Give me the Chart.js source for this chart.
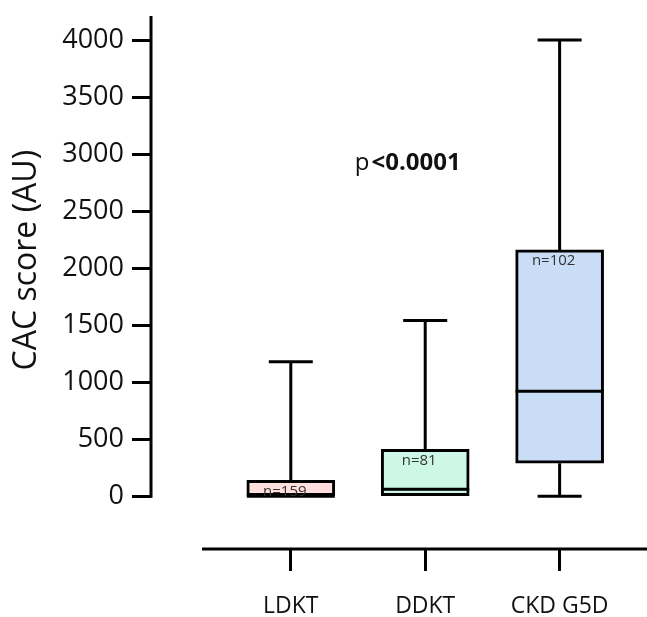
<!DOCTYPE html>
<html>
<head>
<meta charset="utf-8">
<script src="https://cdn.jsdelivr.net/npm/chart.js@4/dist/chart.umd.min.js"></script>
<style>
  body { margin: 0; background: #fff; }
  #chart { display: block; }
</style>
</head>
<body>
<canvas id="chart" width="647" height="617"></canvas>
<script>
// box plot values
const groups = ['LDKT', 'DDKT', 'CKD G5D'];
const mins = [0, 0, 0];
const q1s = [0, 0, 290];
const medians = [0, 60, 920];
const q3s = [140, 410, 2160];
const maxs = [1180, 1540, 4000];
const counts = [159, 81, 102];
const boxColors = ['#ffdede', '#cdf7e6', '#c9ddf7'];
const yTicks = [0, 500, 1000, 1500, 2000, 2500, 3000, 3500, 4000];
const xPositions = [1, 2, 3];

const font = "'Open Sans', 'Noto Sans', sans-serif";

// whiskers, medians, n labels, offset axis lines
const boxPlugin = {
    id: 'boxExtras',
    afterDatasetsDraw(chart) {
        const ctx = chart.ctx;
        const x = chart.scales.x;
        const y = chart.scales.y;
        const area = chart.chartArea;
        const half = 22;
        const boxHalf = 44;

        ctx.save();
        ctx.strokeStyle = '#000';
        ctx.lineWidth = 3;
        ctx.lineCap = 'butt';

        xPositions.forEach((pos, i) => {
            const cx = x.getPixelForValue(pos);
            // upper whisker
            ctx.beginPath();
            ctx.moveTo(cx, y.getPixelForValue(q3s[i]));
            ctx.lineTo(cx, y.getPixelForValue(maxs[i]));
            ctx.moveTo(cx - half, y.getPixelForValue(maxs[i]));
            ctx.lineTo(cx + half, y.getPixelForValue(maxs[i]));
            ctx.stroke();
            // lower whisker
            if (mins[i] < q1s[i]) {
                ctx.beginPath();
                ctx.moveTo(cx, y.getPixelForValue(q1s[i]));
                ctx.lineTo(cx, y.getPixelForValue(mins[i]));
                ctx.moveTo(cx - half, y.getPixelForValue(mins[i]));
                ctx.lineTo(cx + half, y.getPixelForValue(mins[i]));
                ctx.stroke();
            }
            // median
            ctx.beginPath();
            ctx.moveTo(cx - boxHalf, y.getPixelForValue(medians[i]));
            ctx.lineTo(cx + boxHalf, y.getPixelForValue(medians[i]));
            ctx.stroke();

            // n label
            ctx.fillStyle = '#333';
            ctx.font = '15px ' + font;
            ctx.textAlign = 'center';
            ctx.textBaseline = 'middle';
            ctx.fillText('n=' + counts[i], cx - 6, y.getPixelForValue(q3s[i]) + 11);
        });

        // y axis line (stops at 0)
        ctx.beginPath();
        ctx.moveTo(area.left, area.top);
        ctx.lineTo(area.left, y.getPixelForValue(0) + 1.5);
        ctx.stroke();

        // x axis line, offset below the plot
        ctx.beginPath();
        ctx.moveTo(x.getPixelForValue(0.34), area.bottom);
        ctx.lineTo(chart.width, area.bottom);
        ctx.stroke();

        // p value
        const px = x.getPixelForValue(1.87);
        const py = y.getPixelForValue(2920);
        ctx.fillStyle = '#111';
        ctx.textBaseline = 'middle';
        ctx.textAlign = 'left';
        ctx.font = '24px ' + font;
        const pw = ctx.measureText('p').width;
        ctx.font = 'bold 24px ' + font;
        const rw = ctx.measureText('<0.0001').width;
        const start = px - (pw + 2 + rw) / 2;
        ctx.font = '24px ' + font;
        ctx.fillText('p', start, py);
        ctx.font = 'bold 24px ' + font;
        ctx.fillText('<0.0001', start + pw + 2, py);

        // y title
        ctx.save();
        ctx.translate(27, (area.top + y.getPixelForValue(0)) / 2 + 4);
        ctx.rotate(-Math.PI / 2);
        ctx.font = '32px ' + font;
        ctx.fillStyle = '#111';
        ctx.textAlign = 'center';
        ctx.textBaseline = 'middle';
        ctx.fillText('CAC score (AU)', 0, 0);
        ctx.restore();

        ctx.restore();
    }
};

new Chart(document.querySelector('#chart').getContext('2d'), {
    type: 'bar',
    data: {
        datasets: [{
            data: xPositions.map((pos, i) => ({ x: pos, y: [q1s[i], q3s[i]] })),
            backgroundColor: boxColors,
            borderColor: '#000',
            borderWidth: 3,
            borderSkipped: false,
            barThickness: 88
        }]
    },
    options: {
        responsive: false,
        animation: false,
        layout: { padding: { top: 14, right: 0, bottom: 0, left: 0 } },
        plugins: {
            legend: { display: false },
            tooltip: { enabled: false }
        },
        scales: {
            x: {
                type: 'linear',
                offset: false,
                min: -0.04,
                max: 3.65,
                afterBuildTicks: (scale) => { scale.ticks = xPositions.map(v => ({ value: v })); },
                afterFit: (scale) => { scale.height = 68; },
                border: { display: false },
                grid: {
                    offset: false,
                    drawOnChartArea: false,
                    drawTicks: true,
                    tickLength: 22,
                    tickColor: '#000',
                    tickWidth: 3
                },
                ticks: {
                    padding: 22,
                    color: '#111',
                    font: { family: font, size: 23 },
                    callback: (v) => groups[xPositions.indexOf(v)]
                }
            },
            y: {
                min: -463,
                max: 4210,
                afterBuildTicks: (scale) => { scale.ticks = yTicks.map(v => ({ value: v })); },
                afterFit: (scale) => { scale.width = 151; },
                border: { display: false },
                grid: {
                    drawOnChartArea: false,
                    drawTicks: true,
                    tickLength: 19,
                    tickColor: '#000',
                    tickWidth: 3
                },
                ticks: {
                    padding: 8,
                    color: '#111',
                    font: { family: font, size: 27, lineHeight: 0.6 },
                    callback: (v) => String(v)
                }
            }
        }
    },
    plugins: [boxPlugin]
});
</script>
</body>
</html>
